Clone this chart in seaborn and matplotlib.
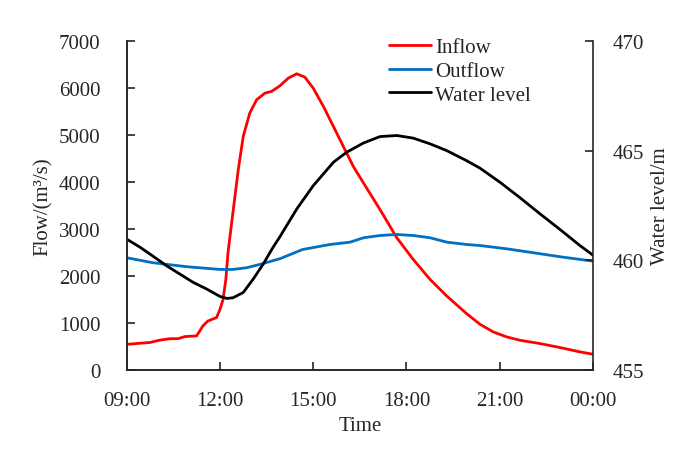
import numpy as np
import pandas as pd
import matplotlib
matplotlib.use("Agg")
import matplotlib.pyplot as plt
import seaborn as sns

# hours after 09:00
inflow_t = [0, 0.43, 0.75, 1.07, 1.39, 1.65, 1.87, 2.25, 2.45, 2.61, 2.89, 3.0, 3.10,
            3.19, 3.26, 3.33, 3.43, 3.59, 3.75, 3.96, 4.18, 4.45, 4.66, 4.93, 5.20,
            5.47, 5.73, 6.0, 6.33, 6.65, 6.97, 7.29, 7.58, 8.15, 8.69, 9.22, 9.76,
            10.3, 10.94, 11.37, 11.80, 12.23, 12.66, 13.30, 13.95, 14.59, 15.0]
inflow = [550, 573, 590, 640, 670, 670, 715, 730, 940, 1045, 1120, 1290, 1500,
          1930, 2500, 2880, 3415, 4263, 4970, 5466, 5748, 5890, 5925, 6045, 6208,
          6300, 6230, 5996, 5606, 5182, 4757, 4333, 4020, 3415, 2815, 2354, 1930,
          1576, 1200, 975, 812, 707, 636, 566, 481, 389, 340]

outflow_t = [0, 0.84, 1.93, 3.0, 3.42, 3.86, 4.29, 4.93, 5.66, 6.54, 7.19, 7.62,
             8.15, 8.69, 9.22, 9.76, 10.3, 10.94, 11.37, 12.23, 13.09, 13.95, 15.0]
outflow = [2390, 2285, 2200, 2142, 2142, 2178, 2250, 2370, 2566, 2672, 2722, 2815,
           2863, 2885, 2863, 2815, 2722, 2672, 2650, 2580, 2496, 2411, 2318]

level_t = [0, 0.43, 0.84, 1.29, 1.71, 2.14, 2.57, 3.0, 3.22, 3.42, 3.75, 4.07, 4.39,
           4.71, 4.93, 5.47, 6.0, 6.65, 7.08, 7.62, 8.15, 8.69, 9.22, 9.76, 10.3,
           10.94, 11.37, 12.02, 12.66, 13.3, 13.95, 14.59, 15.0]
level = [460.97, 460.6, 460.2, 459.75, 459.38, 459.0, 458.7, 458.36, 458.27, 458.3,
         458.54, 459.15, 459.83, 460.6, 461.08, 462.34, 463.4, 464.47, 464.93, 465.35,
         465.64, 465.69, 465.57, 465.31, 465.0, 464.54, 464.2, 463.55, 462.85, 462.12,
         461.4, 460.67, 460.24]

tick_hours = [0, 3, 6, 9, 12, 15]
tick_labels = ["09:00", "12:00", "15:00", "18:00", "21:00", "00:00"]

sns.set_style("ticks")
plt.rcParams["font.family"] = ["Liberation Serif", "DejaVu Serif"]
plt.rcParams["font.size"] = 15

fig = plt.figure(figsize=(7, 4.6), dpi=100)
ax = fig.add_axes([0.181, 0.193, 0.666, 0.716])
ax2 = ax.twinx()

sns.lineplot(x=inflow_t, y=inflow, ax=ax, color="#FF0000", lw=2, label="Inflow", legend=False)
sns.lineplot(x=outflow_t, y=outflow, ax=ax, color="#0070C0", lw=2, label="Outflow", legend=False)
sns.lineplot(x=level_t, y=level, ax=ax2, color="black", lw=2, label="Water level", legend=False)

ax.set_xlim(0, 15)
ax.set_ylim(0, 7000)
ax2.set_ylim(455, 470)
ax.set_xticks(tick_hours)
ax.set_xticklabels(tick_labels)
ax.set_yticks(range(0, 7001, 1000))
ax2.set_yticks([455, 460, 465, 470])

for a in (ax, ax2):
    a.spines["top"].set_visible(False)
    for s in a.spines.values():
        s.set_linewidth(1.2)
    a.tick_params(direction="in", length=6, width=1.2, labelsize=15)
ax.spines["right"].set_visible(False)
ax.tick_params(axis="x", pad=15)
ax.tick_params(axis="y", pad=19)
ax2.tick_params(axis="y", pad=14)

ax.set_xlabel("Time", fontsize=15, labelpad=4)
ax.set_ylabel("Flow/(m\u00b3/s)", fontsize=15, labelpad=4)
ax2.set_ylabel("Water level/m", fontsize=15, labelpad=5)

h1, l1 = ax.get_legend_handles_labels()
h2, l2 = ax2.get_legend_handles_labels()
ax2.legend(h1 + h2, l1 + l2, loc="upper left", bbox_to_anchor=(0.545, 1.035), frameon=False,
           fontsize=15, handlelength=2.0, handletextpad=0.2, labelspacing=0.2, borderaxespad=0)

fig.savefig("out.png", dpi=100)
